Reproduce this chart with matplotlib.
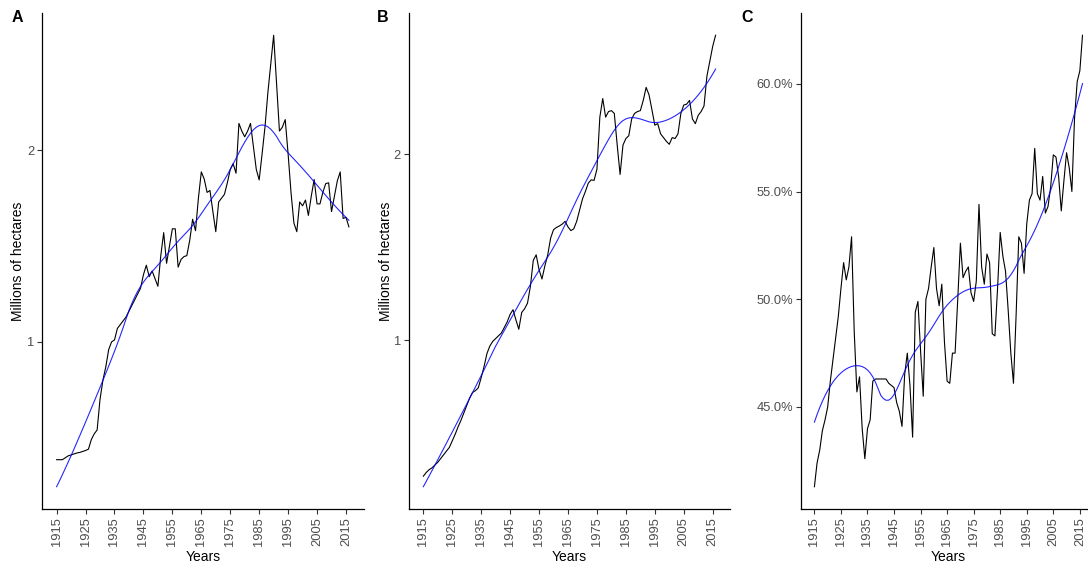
import numpy as np
import matplotlib
matplotlib.use("Agg")
import matplotlib.pyplot as plt
from matplotlib.ticker import FuncFormatter

plt.rcParams['font.family'] = ['Liberation Sans', 'DejaVu Sans']

years = np.arange(1915, 2017)

# panel A: millions of hectares
area_a = [
    0.385, 0.385, 0.385, 0.395, 0.405, 0.41, 0.415, 0.42, 0.423, 0.428,
    0.433, 0.44, 0.49, 0.52, 0.54, 0.70, 0.80, 0.87, 0.96, 1.00,
    1.01, 1.07, 1.09, 1.11, 1.13, 1.16, 1.19, 1.22, 1.25, 1.28,
    1.35, 1.40, 1.34, 1.37, 1.33, 1.29, 1.45, 1.57, 1.41, 1.50,
    1.59, 1.59, 1.39, 1.43, 1.445, 1.45, 1.53, 1.64, 1.58, 1.75,
    1.887, 1.85, 1.78, 1.79, 1.68, 1.575, 1.73, 1.75, 1.77, 1.83,
    1.90, 1.93, 1.88, 2.14, 2.10, 2.07, 2.10, 2.14, 2.02, 1.90,
    1.845, 1.98, 2.12, 2.30, 2.45, 2.60, 2.35, 2.10, 2.12, 2.16,
    1.98, 1.78, 1.62, 1.575, 1.73, 1.71, 1.74, 1.66, 1.76, 1.847,
    1.72, 1.72, 1.78, 1.826, 1.83, 1.68, 1.76, 1.84, 1.887, 1.644,
    1.65, 1.60,
]

# panel B: millions of hectares
area_b = [
    0.27, 0.29, 0.305, 0.315, 0.33, 0.345, 0.365, 0.385, 0.405, 0.425,
    0.46, 0.495, 0.535, 0.57, 0.61, 0.65, 0.69, 0.72, 0.73, 0.745,
    0.80, 0.86, 0.93, 0.97, 0.995, 1.01, 1.025, 1.04, 1.07, 1.10,
    1.14, 1.165, 1.11, 1.06, 1.15, 1.17, 1.20, 1.29, 1.43, 1.46,
    1.38, 1.33, 1.40, 1.46, 1.55, 1.595, 1.607, 1.615, 1.625, 1.64,
    1.61, 1.59, 1.60, 1.64, 1.70, 1.76, 1.80, 1.845, 1.863, 1.86,
    1.92, 2.20, 2.30, 2.20, 2.23, 2.235, 2.22, 2.05, 1.892, 2.05,
    2.085, 2.10, 2.19, 2.22, 2.23, 2.235, 2.29, 2.36, 2.32, 2.24,
    2.157, 2.165, 2.11, 2.09, 2.07, 2.054, 2.09, 2.085, 2.11, 2.22,
    2.265, 2.27, 2.29, 2.19, 2.165, 2.21, 2.23, 2.26, 2.42, 2.50,
    2.58, 2.64,
]

# panel C: share in percent
share_c = [
    41.3, 42.4, 43.0, 43.9, 44.4, 45.0, 46.2, 47.2, 48.2, 49.2,
    50.5, 51.7, 50.9, 51.5, 52.9, 48.5, 45.7, 46.4, 44.0, 42.6,
    44.0, 44.4, 46.2, 46.3, 46.3, 46.3, 46.3, 46.3, 46.1, 46.0,
    45.9, 45.2, 44.8, 44.1, 46.5, 47.5, 46.0, 43.6, 49.4, 49.9,
    47.6, 45.5, 50.0, 50.5, 51.5, 52.4, 50.5, 49.7, 50.7, 48.0,
    46.2, 46.1, 47.5, 47.5, 50.0, 52.6, 51.0, 51.3, 51.5, 50.3,
    49.9, 50.85, 54.4, 51.5, 50.7, 52.1, 51.7, 48.4, 48.3, 50.5,
    53.1, 52.0, 51.3, 49.5, 47.5, 46.1, 49.3, 52.9, 52.6, 51.2,
    53.5, 54.6, 54.9, 57.0, 54.9, 54.6, 55.7, 54.0, 54.3, 55.2,
    56.7, 56.6, 55.7, 54.1, 55.5, 56.8, 56.1, 55.0, 58.4, 60.1,
    60.6, 62.25,
]

year_ticks = list(range(1915, 2016, 10))


def loess(x, y, span=0.5):
    """Local quadratic fit with tricube weights (like geom_smooth)."""
    x = np.asarray(x, float)
    y = np.asarray(y, float)
    n = len(x)
    q = int(np.floor(n * span))
    fit = []
    for x0 in x:
        d = np.abs(x - x0)
        h = np.sort(d)[q - 1]
        w = np.clip(1 - (d / h) ** 3, 0, None) ** 3
        X = np.vstack([np.ones(n), x - x0, (x - x0) ** 2]).T
        sw = np.sqrt(w)
        beta = np.linalg.lstsq(X * sw[:, None], y * sw, rcond=None)[0]
        fit.append(beta[0])
    return np.array(fit)


def style_axis(ax, yticks, fmt=None):
    for side in ["top", "right"]:
        ax.spines[side].set_visible(False)
    for side in ["left", "bottom"]:
        ax.spines[side].set_linewidth(0.9)
        ax.spines[side].set_color("black")
    ax.set_xticks(year_ticks)
    ax.set_xticklabels([str(y) for y in year_ticks], rotation=90)
    ax.set_yticks(yticks)
    if fmt is not None:
        ax.yaxis.set_major_formatter(FuncFormatter(fmt))
    ax.tick_params(axis="both", length=3.5, width=0.8, color="#333333",
                   labelcolor="#4D4D4D", labelsize=9.3, pad=2)
    ax.set_xlabel("Years", fontsize=10, labelpad=3)
    span = years[-1] - years[0]
    ax.set_xlim(years[0] - 0.05 * span, years[-1] + 0.05 * span)


fig = plt.figure(figsize=(10.88, 5.64), dpi=100)
W, H = 1088, 564


def make_ax(left, right, top=12.7, bottom=509.3):
    return fig.add_axes([left / W, 1 - bottom / H, (right - left) / W, (bottom - top) / H])


# panel C runs past the right edge of the figure, as in the source image
panels = [
    (make_ax(42, 363.5), area_a, "A", 17),
    (make_ax(408.7, 730.2), area_b, "B", 383),
    (make_ax(801, 1095.9), share_c, "C", 747),
]

for ax, vals, letter, lx in panels:
    smooth = loess(years, vals)
    ax.plot(years, vals, color="black", lw=0.8)
    ax.plot(years, smooth, color="blue", lw=0.8, alpha=0.85)
    lo = min(min(vals), smooth.min())
    hi = max(max(vals), smooth.max())
    r = hi - lo
    ax.set_ylim(lo - 0.05 * r, hi + 0.05 * r)
    fig.text(lx / W, 1 - 18 / H, letter, fontsize=11.5, fontweight="bold",
             ha="center", va="center")

ax_a, ax_b, ax_c = [p[0] for p in panels]
style_axis(ax_a, [1, 2])
style_axis(ax_b, [1, 2])
style_axis(ax_c, [45, 50, 55, 60], fmt=lambda v, p: f"{v:.1f}%")
ax_a.set_ylabel("Millions of hectares", fontsize=10)
ax_b.set_ylabel("Millions of hectares", fontsize=10)
ax_a.yaxis.set_label_coords(-17 / 321.5, 0.5)
ax_b.yaxis.set_label_coords(-16 / 321.5, 0.5)

fig.savefig("out.png", dpi=100)
